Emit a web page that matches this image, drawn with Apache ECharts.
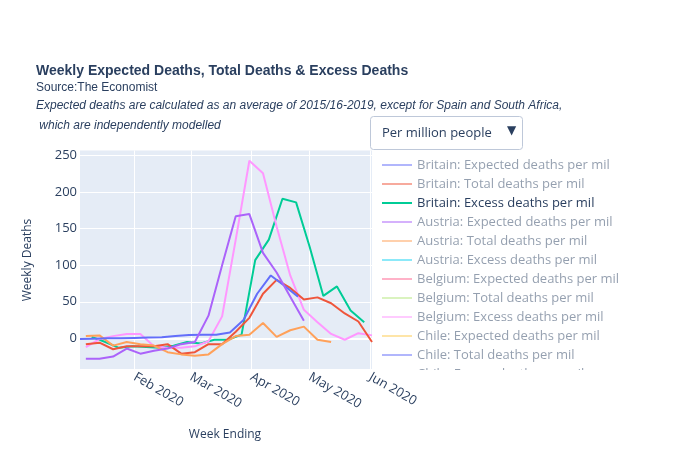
<!DOCTYPE html>
<html>
<head>
<meta charset="utf-8">
<script src="https://cdn.jsdelivr.net/npm/echarts@6/dist/echarts.min.js"></script>
<style>
  html, body { margin: 0; padding: 0; background: #fff; }
  #chart { width: 700px; height: 450px; }
</style>
</head>
<body>
<div id="chart"></div>
<script>
// week-ending dates for the three reporting calendars
const tuesdayWeeks = ['2020-01-07','2020-01-14','2020-01-21','2020-01-28','2020-02-04','2020-02-11','2020-02-18','2020-02-25','2020-03-03','2020-03-10','2020-03-17','2020-03-24','2020-03-31','2020-04-07','2020-04-14','2020-04-21','2020-04-28','2020-05-05','2020-05-12','2020-05-19','2020-05-26','2020-06-02'];
const fridayWeeks = ['2020-01-10','2020-01-17','2020-01-24','2020-01-31','2020-02-07','2020-02-14','2020-02-21','2020-02-28','2020-03-06','2020-03-13','2020-03-20','2020-03-27','2020-04-03','2020-04-10','2020-04-17','2020-04-24','2020-05-01','2020-05-08','2020-05-15','2020-05-22','2020-05-29'];
const saturdayWeeks = ['2020-01-04','2020-01-11','2020-01-18','2020-01-25','2020-02-01','2020-02-08','2020-02-15','2020-02-22','2020-02-29','2020-03-07','2020-03-14','2020-03-21','2020-03-28','2020-04-04','2020-04-11','2020-04-18','2020-04-25'];

// excess deaths per million (visible traces)
const britainExcess = [2, -5, -13, -11, -12, -13, -10, -5, -7, -2, -2, 5, 107, 135, 191, 186, 125, 58, 71, 38, 22];
const pinkExcess = [-12, -1, 3, 6, 6, -11, -13, -13, -11, -4, 30, 135, 243, 226, 153, 86, 39, 22, 6, -2, 7, 4];
const redExcess = [-8, -6, -15, -11, -11, -11, -8, -21, -19, -8, -8, 9, 28, 61, 80, 69, 53, 56, 48, 34, 23, -5];
const orangeExcess = [3, 4, -10, -5, -8, -10, -19, -22, -24, -22, -8, 3, 5, 21, 2, 11, 16, -2, -5];
const blueExcess = [-1, -0.5, 0, 0, 0.5, 1, 1.5, 3, 4.5, 5, 5, 8, 25, 61, 86, 72, 57];
const purpleExcess = [-28, -28, -25, -14, -21, -17, -14, -8, -5, 31, 100, 167, 170, 117, 90, 57, 24];

// legend entries (only the green one is switched on)
const legendNames = ['Britain: Expected deaths per mil','Britain: Total deaths per mil','Britain: Excess deaths per mil','Austria: Expected deaths per mil','Austria: Total deaths per mil','Austria: Excess deaths per mil','Belgium: Expected deaths per mil','Belgium: Total deaths per mil','Belgium: Excess deaths per mil','Chile: Expected deaths per mil','Chile: Total deaths per mil','Chile: Excess deaths per mil'];
const legendColors = ['#636efa','#EF553B','#00cc96','#ab63fa','#FFA15A','#19d3f3','#FF6692','#B6E880','#FF97FF','#FECB52','#636efa','#EF553B'];

const yTicks = [0, 50, 100, 150, 200, 250];
const monthTicks = ['2020-02-01','2020-03-01','2020-04-01','2020-05-01','2020-06-01'];
const monthNames = ['Jan','Feb','Mar','Apr','May','Jun','Jul','Aug','Sep','Oct','Nov','Dec'];

const FONT = "'Open Sans', sans-serif";
const INK = '#2a3f5f';

function toTs(s) {
  const p = s.split('-');
  return new Date(+p[0], +p[1] - 1, +p[2]).getTime();
}
function pairs(dates, vals) {
  return vals.map((v, i) => [toTs(dates[i]), v]);
}
function fade(hex) {
  const n = parseInt(hex.slice(1), 16);
  return `rgba(${n >> 16},${(n >> 8) & 255},${n & 255},0.5)`;
}

const chart = echarts.init(document.getElementById('chart'));

const visible = [
  { name: 'Britain: Excess deaths per mil', color: '#00cc96', data: pairs(fridayWeeks, britainExcess) },
  { name: 'Belgium excess (shown)', color: '#FF97FF', data: pairs(tuesdayWeeks, pinkExcess) },
  { name: 'Sweden: Excess deaths per mil', color: '#EF553B', data: pairs(tuesdayWeeks, redExcess) },
  { name: 'Denmark: Excess deaths per mil', color: '#FFA15A', data: pairs(tuesdayWeeks, orangeExcess) },
  { name: 'France: Excess deaths per mil', color: '#636efa', data: pairs(saturdayWeeks, blueExcess) },
  { name: 'Italy: Excess deaths per mil', color: '#ab63fa', data: pairs(tuesdayWeeks, purpleExcess) }
];

const series = [];

// grid lines drawn as mark lines so they can sit on ticks independent of min
series.push({
  type: 'line',
  name: '_grid',
  data: [],
  silent: true,
  z: 1,
  markLine: {
    silent: true,
    z: 1,
    symbol: 'none',
    animation: false,
    label: { show: false },
    lineStyle: { color: '#ffffff', width: 1, type: 'solid' },
    data: yTicks.map(v => ({ yAxis: v, lineStyle: { width: v === 0 ? 2 : 1 } }))
      .concat(monthTicks.map(d => ({ xAxis: toTs(d) })))
  }
});

visible.forEach(s => {
  series.push({
    type: 'line',
    name: s.name,
    data: s.data,
    showSymbol: false,
    symbol: 'none',
    z: 3,
    lineStyle: { color: s.color, width: 2 },
    itemStyle: { color: s.color }
  });
});

// placeholder traces for the switched-off legend entries
legendNames.forEach((n, i) => {
  if (n === 'Britain: Excess deaths per mil') return;
  series.push({ type: 'line', name: n, data: [], color: legendColors[i] });
});

const lastName = legendNames[legendNames.length - 1];

const option = {
  animation: false,
  backgroundColor: '#ffffff',
  grid: {
    left: 80, top: 150.5, width: 292, height: 218.5,
    show: true, backgroundColor: '#E5ECF6', borderWidth: 0
  },
  xAxis: {
    type: 'value',
    min: toTs('2020-01-04'),
    max: toTs('2020-06-02'),
    axisLine: { show: false },
    axisTick: { show: false },
    splitLine: { show: false },
    axisLabel: {
      customValues: monthTicks.map(toTs),
      rotate: -30,
      margin: 7,
      color: INK,
      fontFamily: FONT,
      fontSize: 13,
      formatter: v => monthNames[new Date(v).getMonth()] + ' 2020'
    }
  },
  yAxis: {
    type: 'value',
    min: -42,
    max: 257,
    axisLine: { show: false },
    axisTick: { show: false },
    splitLine: { show: false },
    axisLabel: {
      customValues: yTicks,
      margin: 3,
      color: INK,
      fontFamily: FONT,
      fontSize: 13
    }
  },
  legend: {
    orient: 'vertical',
    left: 382,
    top: 158,
    padding: 0,
    itemGap: 5,
    itemWidth: 30,
    itemHeight: 2,
    icon: 'rect',
    selectedMode: false,
    textStyle: { fontFamily: FONT, fontSize: 13, lineHeight: 14 },
    data: legendNames.map((n, i) => {
      const on = n === 'Britain: Excess deaths per mil';
      return {
        name: n,
        itemStyle: { color: n === lastName ? 'rgba(0,0,0,0)' : (on ? legendColors[i] : fade(legendColors[i])) },
        textStyle: { color: on ? INK : 'rgba(42,63,95,0.5)' }
      };
    })
  },
  graphic: [
    { type: 'text', x: 36, y: 71, style: { text: 'Weekly Expected Deaths, Total Deaths & Excess Deaths', font: "bold 14px 'Liberation Sans', Arial, sans-serif", fill: INK, verticalAlign: 'middle' } },
    { type: 'text', x: 36, y: 88, style: { text: 'Source:The Economist', font: "12px 'Liberation Sans', Arial, sans-serif", fill: INK, verticalAlign: 'middle' } },
    { type: 'text', x: 36, y: 106, style: { text: 'Expected deaths are calculated as an average of 2015/16-2019, except for Spain and South Africa,', font: "italic 12px 'Liberation Sans', Arial, sans-serif", fill: INK, verticalAlign: 'middle' } },
    { type: 'text', x: 36, y: 126, style: { text: ' which are independently modelled', font: "italic 12px 'Liberation Sans', Arial, sans-serif", fill: INK, verticalAlign: 'middle' } },
    { type: 'rect', shape: { x: 370.5, y: 116.5, width: 152, height: 33, r: 3 }, style: { fill: '#ffffff', stroke: '#bec8d9', lineWidth: 1 }, z: 10 },
    { type: 'text', x: 382, y: 133, z: 11, style: { text: 'Per million people', font: "13px 'Open Sans', sans-serif", fill: INK, verticalAlign: 'middle' } },
    { type: 'text', x: 511.5, y: 131, z: 11, style: { text: '▼', font: "12px 'DejaVu Sans', sans-serif", fill: INK, align: 'center', verticalAlign: 'middle' } },
    { type: 'text', x: 28, y: 260, rotation: Math.PI / 2, style: { text: 'Weekly Deaths', font: "12px 'Open Sans', sans-serif", fill: INK, align: 'center', verticalAlign: 'middle' } },
    { type: 'text', x: 225, y: 435, style: { text: 'Week Ending', font: "12px 'Open Sans', sans-serif", fill: INK, align: 'center', verticalAlign: 'middle' } },
    // clip the partly scrolled last legend row
    { type: 'rect', shape: { x: 414, y: 370, width: 280, height: 16 }, style: { fill: '#ffffff' }, z: 100 }
  ],
  series: series
};

chart.setOption(option);
</script>
</body>
</html>
